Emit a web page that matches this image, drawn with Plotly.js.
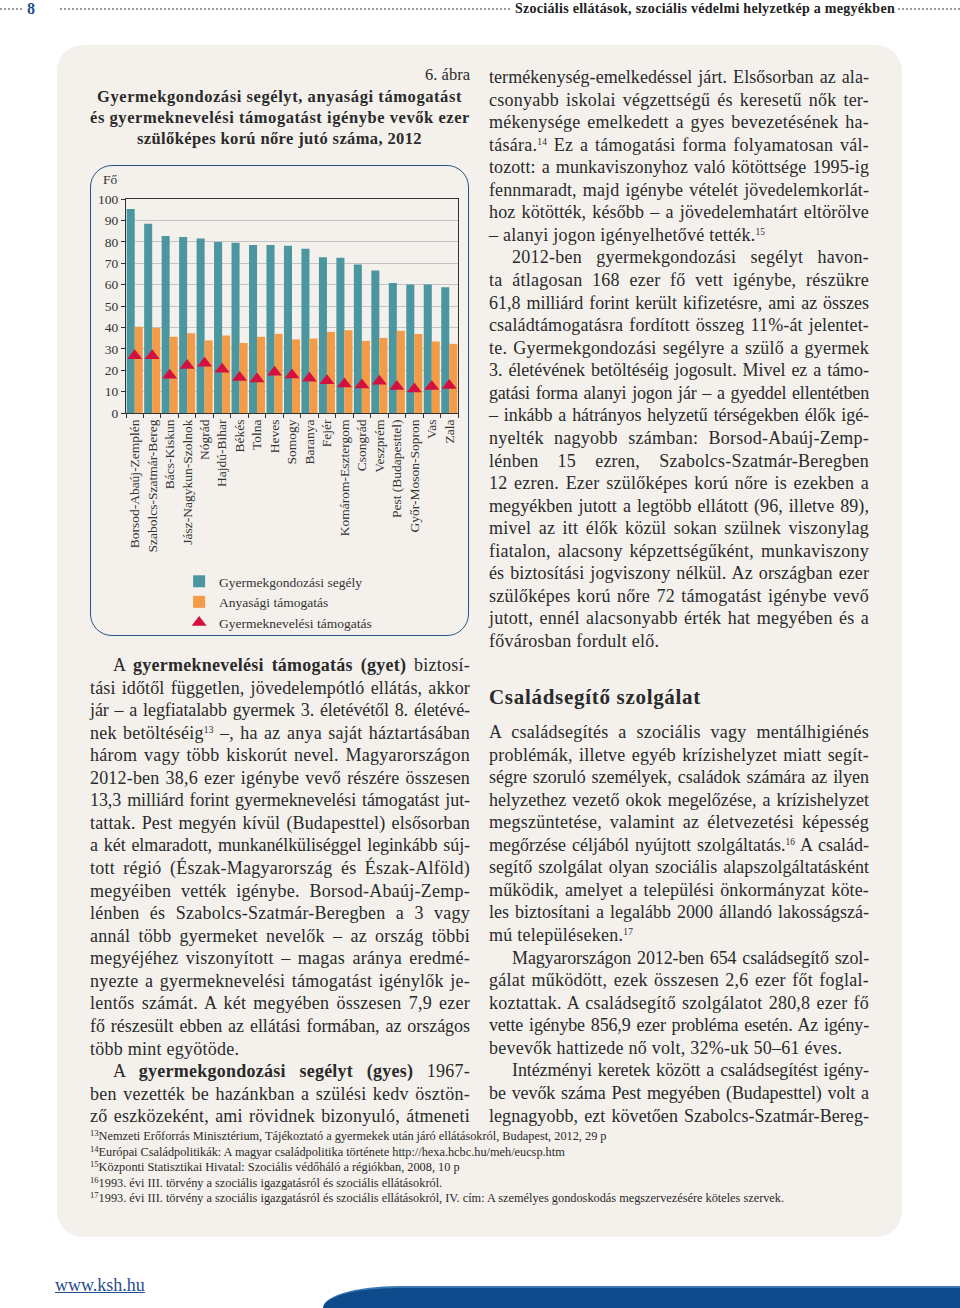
<!DOCTYPE html>
<html><head><meta charset="utf-8">
<script src="https://cdn.plot.ly/plotly-3.0.1.min.js"></script>
<style>
body{margin:0;width:960px;height:1308px;position:relative;background:#fff;font-family:'Liberation Serif','Times New Roman',serif;color:#2a2a2a;overflow:hidden}
.abs{position:absolute;white-space:nowrap}
.ln{position:absolute;white-space:nowrap;font-size:18px;letter-spacing:0.25px;line-height:22px;height:22px}
.ln sup{font-size:0.52em;vertical-align:0.65em;line-height:0}
.fn sup{font-size:0.7em;vertical-align:0.45em;line-height:0}
.fn{position:absolute;white-space:nowrap;font-size:12.3px;line-height:15px}
.dots{position:absolute;height:0;border-top:2px dotted #9a9a9a}
</style></head>
<body>
<div class="dots" style="left:0;top:8px;width:22px"></div>
<div class="abs" style="left:27px;top:0px;font-size:16px;font-weight:bold;color:#1f4e8c;line-height:18px">8</div>
<div class="dots" style="left:60px;top:8px;width:450px"></div>
<div class="abs fit" data-w="380" style="left:515px;top:1px;font-size:14px;font-weight:bold;line-height:16px;color:#222">Szociális ellátások, szociális védelmi helyzetkép a megyékben</div>
<div class="dots" style="left:898px;top:8px;width:62px"></div>

<div style="position:absolute;left:57px;top:45px;width:845px;height:1192px;background:#f4f1ec;border-radius:26px"></div>

<div class="abs" style="left:380px;top:65px;width:90px;text-align:right;font-size:16.5px;line-height:20px">6. ábra</div>
<div class="abs fit" data-w="365" style="left:97px;top:87px;font-size:16.5px;font-weight:bold;line-height:20px">Gyermekgondozási segélyt, anyasági támogatást</div>
<div class="abs fit" data-w="380" style="left:90px;top:108px;font-size:16.5px;font-weight:bold;line-height:20px">és gyermeknevelési támogatást igénybe vevők ezer</div>
<div class="abs fit" data-w="285" style="left:137px;top:129px;font-size:16.5px;font-weight:bold;line-height:20px">szülőképes korú nőre jutó száma, 2012</div>

<div style="position:absolute;left:90px;top:165px;width:377px;height:469px;border:1.6px solid #2b5482;border-radius:22px"></div>
<div id="chart" style="position:absolute;left:90px;top:165px;width:380px;height:472px"></div>

<div class="abs fit" data-w="212" style="left:489px;top:684px;font-size:21px;font-weight:bold;line-height:26px">Családsegítő szolgálat</div>

<div class="abs" style="left:55px;top:1274px;font-size:18px;color:#1f4e8c;text-decoration:underline;line-height:22px">www.ksh.hu</div>
<div style="position:absolute;left:323px;top:1286px;width:637px;height:22px;background:#0d4b8c;border-top-left-radius:75px 22px;border-top:2px solid #3c78b4"></div>

<script>
// ---- chart data ----
const counties = ['Borsod-Abaúj-Zemplén','Szabolcs-Szatmár-Bereg','Bács-Kiskun','Jász-Nagykun-Szolnok','Nógrád','Hajdú-Bihar','Békés','Tolna','Heves','Somogy','Baranya','Fejér','Komárom-Esztergom','Csongrád','Veszprém','Pest (Budapesttel)','Győr-Moson-Sopron','Vas','Zala'];
const gyesValues = [95.3, 88.4, 82.7, 82.3, 81.6, 79.9, 79.5, 78.5, 78.5, 78.1, 76.8, 72.8, 72.5, 69.4, 66.6, 60.7, 60.0, 60.0, 58.8];
const anyasagiValues = [40.3, 39.8, 35.6, 37.3, 33.9, 36.2, 32.7, 35.6, 37.0, 34.4, 34.8, 37.9, 38.7, 33.7, 35.1, 38.4, 36.9, 33.4, 32.3];
const gyetValues = [26.7, 26.7, 17.6, 22.2, 23.2, 20.5, 16.6, 15.9, 19.0, 17.7, 16.2, 15.1, 13.5, 13.1, 14.8, 12.4, 11.2, 12.4, 12.8];
const seriesNames = ['Gyermekgondozási segély','Anyasági támogatás','Gyermeknevelési támogatás'];
const yTitle = 'Fő';

// ---- text ----
const leftLines = [
 {t:'A <b>gyermeknevelési támogatás (gyet)</b> biztosí-', i:1},
 {t:'tási időtől független, jövedelempótló ellátás, akkor'},
 {t:'jár – a legfiatalabb gyermek 3. életévétől 8. életévé-'},
 {t:'nek betöltéséig<sup>13</sup> –, ha az anya saját háztartásában'},
 {t:'három vagy több kiskorút nevel. Magyarországon'},
 {t:'2012-ben 38,6 ezer igénybe vevő részére összesen'},
 {t:'13,3 milliárd forint gyermeknevelési támogatást jut-'},
 {t:'tattak. Pest megyén kívül (Budapesttel) elsősorban'},
 {t:'a két elmaradott, munkanélküliséggel leginkább súj-'},
 {t:'tott régió (Észak-Magyarország és Észak-Alföld)'},
 {t:'megyéiben vették igénybe. Borsod-Abaúj-Zemp-'},
 {t:'lénben és Szabolcs-Szatmár-Beregben a 3 vagy'},
 {t:'annál több gyermeket nevelők – az ország többi'},
 {t:'megyéjéhez viszonyított – magas aránya eredmé-'},
 {t:'nyezte a gyermeknevelési támogatást igénylők je-'},
 {t:'lentős számát. A két megyében összesen 7,9 ezer'},
 {t:'fő részesült ebben az ellátási formában, az országos'},
 {t:'több mint egyötöde.', last:1},
 {t:'A <b>gyermekgondozási segélyt (gyes)</b> 1967-', i:1},
 {t:'ben vezették be hazánkban a szülési kedv ösztön-'},
 {t:'ző eszközeként, ami rövidnek bizonyuló, átmeneti'}
];
const rightLines1 = [
 {t:'termékenység-emelkedéssel járt. Elsősorban az ala-'},
 {t:'csonyabb iskolai végzettségű és keresetű nők ter-'},
 {t:'mékenysége emelkedett a gyes bevezetésének ha-'},
 {t:'tására.<sup>14</sup> Ez a támogatási forma folyamatosan vál-'},
 {t:'tozott: a munkaviszonyhoz való kötöttsége 1995-ig'},
 {t:'fennmaradt, majd igénybe vételét jövedelemkorlát-'},
 {t:'hoz kötötték, később – a jövedelemhatárt eltörölve'},
 {t:'– alanyi jogon igényelhetővé tették.<sup>15</sup>', last:1},
 {t:'2012-ben gyermekgondozási segélyt havon-', i:1},
 {t:'ta átlagosan 168 ezer fő vett igénybe, részükre'},
 {t:'61,8 milliárd forint került kifizetésre, ami az összes'},
 {t:'családtámogatásra fordított összeg 11%-át jelentet-'},
 {t:'te. Gyermekgondozási segélyre a szülő a gyermek'},
 {t:'3. életévének betöltéséig jogosult. Mivel ez a támo-'},
 {t:'gatási forma alanyi jogon jár – a gyeddel ellentétben'},
 {t:'– inkább a hátrányos helyzetű térségekben élők igé-'},
 {t:'nyelték nagyobb számban: Borsod-Abaúj-Zemp-'},
 {t:'lénben 15 ezren, Szabolcs-Szatmár-Beregben'},
 {t:'12 ezren. Ezer szülőképes korú nőre is ezekben a'},
 {t:'megyékben jutott a legtöbb ellátott (96, illetve 89),'},
 {t:'mivel az itt élők közül sokan szülnek viszonylag'},
 {t:'fiatalon, alacsony képzettségűként, munkaviszony'},
 {t:'és biztosítási jogviszony nélkül. Az országban ezer'},
 {t:'szülőképes korú nőre 72 támogatást igénybe vevő'},
 {t:'jutott, ennél alacsonyabb érték hat megyében és a'},
 {t:'fővárosban fordult elő.', last:1}
];
const rightLines2 = [
 {t:'A családsegítés a szociális vagy mentálhigiénés'},
 {t:'problémák, illetve egyéb krízishelyzet miatt segít-'},
 {t:'ségre szoruló személyek, családok számára az ilyen'},
 {t:'helyzethez vezető okok megelőzése, a krízishelyzet'},
 {t:'megszüntetése, valamint az életvezetési képesség'},
 {t:'megőrzése céljából nyújtott szolgáltatás.<sup>16</sup> A család-'},
 {t:'segítő szolgálat olyan szociális alapszolgáltatásként'},
 {t:'működik, amelyet a települési önkormányzat köte-'},
 {t:'les biztosítani a legalább 2000 állandó lakosságszá-'},
 {t:'mú településeken.<sup>17</sup>', last:1},
 {t:'Magyarországon 2012-ben 654 családsegítő szol-', i:1},
 {t:'gálat működött, ezek összesen 2,6 ezer főt foglal-'},
 {t:'koztattak. A családsegítő szolgálatot 280,8 ezer fő'},
 {t:'vette igénybe 856,9 ezer probléma esetén. Az igény-'},
 {t:'bevevők hattizede nő volt, 32%-uk 50–61 éves.', last:1},
 {t:'Intézményi keretek között a családsegítést igény-', i:1},
 {t:'be vevők száma Pest megyében (Budapesttel) volt a'},
 {t:'legnagyobb, ezt követően Szabolcs-Szatmár-Bereg-'}
];
const footnotes = [
 '<sup>13</sup>Nemzeti Erőforrás Minisztérium, Tájékoztató a gyermekek után járó ellátásokról, Budapest, 2012, 29 p',
 '<sup>14</sup>Európai Családpolitikák: A magyar családpolitika története http://hexa.hcbc.hu/meh/eucsp.htm',
 '<sup>15</sup>Központi Statisztikai Hivatal: Szociális védőháló a régiókban, 2008, 10 p',
 '<sup>16</sup>1993. évi III. törvény a szociális igazgatásról és szociális ellátásokról.',
 '<sup>17</sup>1993. évi III. törvény a szociális igazgatásról és szociális ellátásokról, IV. cím: A személyes gondoskodás megszervezésére köteles szervek.'
];

const STEP = 22.56, INDENT = 23, COLW = 380, BASE_LS = 0.25, MIN_WS = 1.5;
function place(lines, x, yc) {
  lines.forEach((l, k) => {
    const d = document.createElement('div');
    d.className = 'ln';
    const ind = l.i ? INDENT : 0;
    d.style.left = (x + ind) + 'px';
    d.style.top = (yc + k * STEP - 11) + 'px';
    d.innerHTML = l.t;
    document.body.appendChild(d);
    if (!l.last) {
      const W = COLW - ind;
      const w = d.getBoundingClientRect().width;
      const n = (d.textContent.match(/ /g) || []).length;
      const chars = d.textContent.length;
      let extra = W - w;
      if (extra < n * MIN_WS) {
        const ls = BASE_LS + (extra - n * MIN_WS) / chars;
        d.style.letterSpacing = ls + 'px';
        const w2 = d.getBoundingClientRect().width;
        extra = W - w2;
      }
      if (n > 0) d.style.wordSpacing = (extra / n) + 'px';
    }
  });
}
place(leftLines, 90, 665);
place(rightLines1, 489, 77);
place(rightLines2, 489, 732);
footnotes.forEach((t, k) => {
  const d = document.createElement('div');
  d.className = 'fn';
  d.style.left = '90px';
  d.style.top = (1137 + k * 15.5 - 8) + 'px';
  d.innerHTML = t;
  document.body.appendChild(d);
});
document.querySelectorAll('.fit').forEach(d => {
  const W = +d.dataset.w;
  const w = d.getBoundingClientRect().width;
  const n = d.textContent.length;
  d.style.letterSpacing = ((W - w) / n) + 'px';
});

// ---- chart ----
const F = "'Liberation Serif','Times New Roman',serif";
const traces = [
  {type:'bar', name:seriesNames[0], x:counties, y:gyesValues, marker:{color:'#4b97a0'}},
  {type:'bar', name:seriesNames[1], x:counties, y:anyasagiValues, marker:{color:'#f39b47'}},
  {type:'scatter', mode:'markers', name:seriesNames[2], x:counties, y:gyetValues,
   marker:{symbol:'triangle-up', size:13, color:'#d3103f'}}
];
const layout = {
  width:380, height:472,
  margin:{l:36, r:12, t:34, b:224, autoexpand:false},
  paper_bgcolor:'rgba(0,0,0,0)', plot_bgcolor:'rgba(0,0,0,0)',
  barmode:'group', bargap:0.08, bargroupgap:0,
  font:{family:F, size:13, color:'#333'},
  showlegend:true,
  xaxis:{type:'category', range:[-0.5, counties.length - 0.5], tickangle:-90, ticks:'outside', ticklen:4, tickcolor:'#333',
         tickmode:'array', tickvals:counties, ticktext:counties,
         tickson:'boundaries', showline:true, linecolor:'#333', linewidth:1, mirror:true,
         tickfont:{family:F, size:13.5, color:'#333'}, automargin:false},
  yaxis:{range:[0,100], dtick:10, ticks:'outside', ticklen:4, tickcolor:'#333',
         showgrid:true, gridcolor:'#c4c4c4', gridwidth:1, showline:true, linecolor:'#333', mirror:true,
         zeroline:false, tickfont:{family:F, size:13.5, color:'#333'}, automargin:false},
  legend:{x:0.16, y:-0.715, xanchor:'left', yanchor:'top', orientation:'v',
          font:{family:F, size:13.5, color:'#333'}, bgcolor:'rgba(0,0,0,0)', itemwidth:30, tracegroupgap:0},
  annotations:[{text:yTitle, xref:'paper', yref:'paper', x:-0.075, y:1.09, xanchor:'left', yanchor:'middle',
                showarrow:false, font:{family:F, size:13.5, color:'#333'}}]
};
Plotly.newPlot('chart', traces, layout, {displayModeBar:false, staticPlot:true});
</script>
</body></html>
